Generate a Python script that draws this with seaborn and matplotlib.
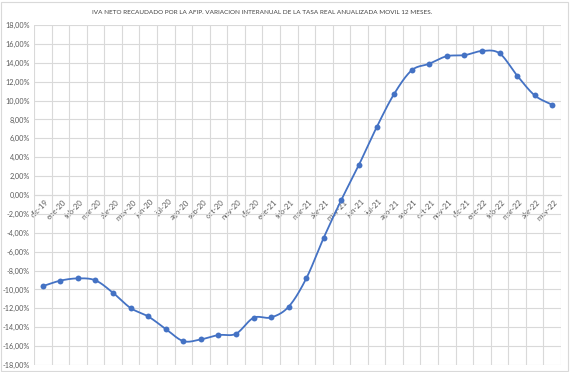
import numpy as np
import pandas as pd
import matplotlib
matplotlib.use("Agg")
import matplotlib.pyplot as plt
import seaborn as sns
from matplotlib.patches import Rectangle

months = ["dic-19", "ene-20", "feb-20", "mar-20", "abr-20", "may-20", "jun-20", "jul-20",
          "ago-20", "sep-20", "oct-20", "nov-20", "dic-20", "ene-21", "feb-21", "mar-21",
          "abr-21", "may-21", "jun-21", "jul-21", "ago-21", "sep-21", "oct-21", "nov-21",
          "dic-21", "ene-22", "feb-22", "mar-22", "abr-22", "may-22"]
values = [-9.65, -9.07, -8.83, -9.04, -10.36, -11.97, -12.86, -14.18,
          -15.47, -15.29, -14.83, -14.69, -13.0, -12.96, -11.82, -8.83,
          -4.5, -0.5, 3.2, 7.15, 10.7, 13.2, 13.9, 14.7,
          14.8, 15.25, 15.0, 12.65, 10.55, 9.55]
y_ticks = list(range(-18, 19, 2))
title = "IVA NETO RECAUDADO POR LA AFIP. VARIACION INTERANUAL DE LA TASA REAL ANUALIZADA MOVIL 12 MESES."

df = pd.DataFrame({"pos": np.arange(len(months)), "mes": months, "valor": values})

sns.set_theme(style="white")
plt.rcParams["font.family"] = ["Lato", "DejaVu Sans"]

fig = plt.figure(figsize=(5.7, 3.72), dpi=100)
ax = fig.add_axes([34 / 570, 1 - 365 / 372, (561 - 34) / 570, (365 - 25) / 372])

grid_c = "#d9d9d9"
line_c = "#4472C4"
text_c = "#595959"

# smooth (Catmull-Rom style) connecting curve through the data points
x = df["pos"].to_numpy(float)
y = df["valor"].to_numpy(float)
xs, ys = [], []
for i in range(len(x) - 1):
    p0 = (x[i - 1], y[i - 1]) if i > 0 else (2 * x[i] - x[i + 1], 2 * y[i] - y[i + 1])
    p1 = (x[i], y[i]); p2 = (x[i + 1], y[i + 1])
    p3 = (x[i + 2], y[i + 2]) if i + 2 < len(x) else (2 * x[i + 1] - x[i], 2 * y[i + 1] - y[i])
    t = np.linspace(0, 1, 20)
    for k, arr in ((0, xs), (1, ys)):
        a0, a1, a2, a3 = p0[k], p1[k], p2[k], p3[k]
        arr.extend(0.5 * ((2 * a1) + (-a0 + a2) * t + (2 * a0 - 5 * a1 + 4 * a2 - a3) * t ** 2
                          + (-a0 + 3 * a1 - 3 * a2 + a3) * t ** 3))
ax.plot(xs, ys, color=line_c, lw=1.3, zorder=3)
sns.scatterplot(data=df, x="pos", y="valor", ax=ax, color=line_c, s=18,
                edgecolor=line_c, linewidth=0, zorder=4, legend=False)

for s in ["top", "right", "left"]:
    ax.spines[s].set_visible(False)
ax.spines["bottom"].set_position(("data", 0))
ax.spines["bottom"].set_color(grid_c)
ax.spines["bottom"].set_linewidth(0.8)
ax.grid(False)
ax.set_xlabel("")
ax.set_ylabel("")

ax.set_xlim(-0.5, len(months) - 0.5)
ax.set_ylim(-18, 18)
ax.set_yticks(y_ticks)
ax.set_yticklabels([f"{v:.2f}".replace(".", ",") + "%" for v in y_ticks],
                   fontsize=5.2, color=text_c)
ax.set_xticks(df["pos"] + 0.12)
ax.set_xticklabels(months, rotation=45, ha="right", va="top", rotation_mode="anchor",
                   fontsize=5.6, color=text_c)
ax.tick_params(axis="x", length=0, pad=2.5)
ax.tick_params(axis="y", length=0, pad=3)
for v in y_ticks:
    ax.axhline(v, color=grid_c, lw=0.8, zorder=1)
for v in np.arange(-0.5, len(months), 1):
    ax.axvline(v, color=grid_c, lw=0.8, zorder=1)

fig.text(262 / 570, 1 - 12 / 372, title, ha="center", va="center", fontsize=4.6, color="#404040")
fig.patches.append(Rectangle((1 / 570, 1 / 372), 567 / 570, 369 / 372, transform=fig.transFigure,
                             fill=False, edgecolor=grid_c, lw=0.8))
fig.savefig("out.png", dpi=100)
